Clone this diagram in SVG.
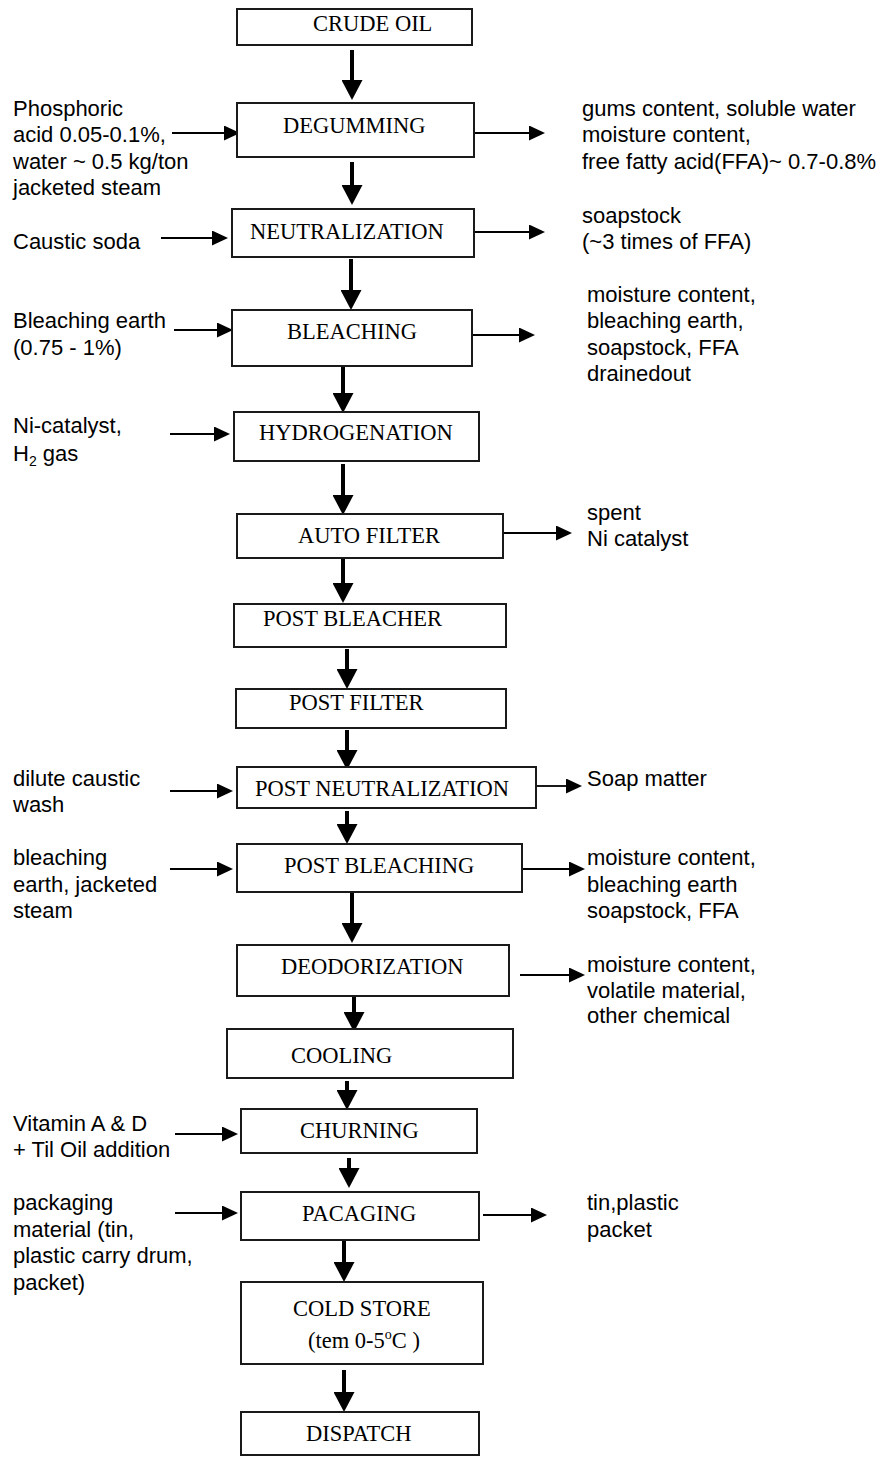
<svg xmlns="http://www.w3.org/2000/svg" width="888" height="1459" viewBox="0 0 888 1459">
<style>
.box{fill:#fff;stroke:#1a1a1a;stroke-width:2}
.lbl{font-family:"Liberation Serif","Times New Roman",serif;font-size:22.5px;fill:#000}
.side{font-family:"Liberation Sans",Arial,sans-serif;font-size:22px;fill:#000}
.main{stroke:#000;stroke-width:4;fill:none;marker-end:url(#bigHead)}
.thin{stroke:#000;stroke-width:1.8;fill:none;marker-end:url(#smallHead)}
</style>
<defs>
<marker id="bigHead" viewBox="0 0 20 21" markerWidth="20" markerHeight="21" refX="1" refY="10.5" orient="auto" markerUnits="userSpaceOnUse">
<path d="M0,0 L20,10.5 L0,21 Z" fill="#000"/>
</marker>
<marker id="smallHead" viewBox="0 0 16 15" markerWidth="16" markerHeight="15" refX="1" refY="7.5" orient="auto" markerUnits="userSpaceOnUse">
<path d="M0,0 L16,7.5 L0,15 Z" fill="#000"/>
</marker>
</defs>
<rect width="888" height="1459" fill="#fff"/>

<g id="connectors">
<line class="main" x1="352" y1="50" x2="352" y2="81"/>
<line class="main" x1="352" y1="162" x2="352" y2="186"/>
<line class="main" x1="351" y1="259" x2="351" y2="291"/>
<line class="main" x1="343" y1="367" x2="343" y2="394"/>
<line class="main" x1="343" y1="464" x2="343" y2="496"/>
<line class="main" x1="343" y1="559" x2="343" y2="584"/>
<line class="main" x1="347" y1="649" x2="347" y2="670"/>
<line class="main" x1="347" y1="730" x2="347" y2="751"/>
<line class="main" x1="347" y1="811" x2="347" y2="825"/>
<line class="main" x1="352" y1="893" x2="352" y2="924"/>
<line class="main" x1="354" y1="997" x2="354" y2="1013"/>
<line class="main" x1="347" y1="1081" x2="347" y2="1091"/>
<line class="main" x1="349" y1="1158" x2="349" y2="1169"/>
<line class="main" x1="344" y1="1241" x2="344" y2="1263"/>
<line class="main" x1="344" y1="1370" x2="344" y2="1393"/>

<line class="thin" x1="172" y1="133" x2="225" y2="133"/>
<line class="thin" x1="161" y1="238" x2="213" y2="238"/>
<line class="thin" x1="174" y1="330" x2="218" y2="330"/>
<line class="thin" x1="170" y1="434" x2="215" y2="434"/>
<line class="thin" x1="170" y1="791" x2="218" y2="791"/>
<line class="thin" x1="170" y1="869" x2="218" y2="869"/>
<line class="thin" x1="175" y1="1134" x2="223" y2="1134"/>
<line class="thin" x1="175" y1="1213" x2="223" y2="1213"/>

<line class="thin" x1="474" y1="133" x2="530" y2="133"/>
<line class="thin" x1="474" y1="232" x2="530" y2="232"/>
<line class="thin" x1="472" y1="335" x2="520" y2="335"/>
<line class="thin" x1="500" y1="533" x2="557" y2="533"/>
<line class="thin" x1="535" y1="786" x2="567" y2="786"/>
<line class="thin" x1="519" y1="869" x2="570" y2="869"/>
<line class="thin" x1="520" y1="975" x2="570" y2="975"/>
<line class="thin" x1="483" y1="1215" x2="532" y2="1215"/>
</g>

<g id="crude-oil"><rect class="box" x="237" y="9" width="235" height="36"/><text class="lbl" x="313" y="31">CRUDE OIL</text></g>
<g id="degumming"><rect class="box" x="237" y="103" width="237" height="54"/><text class="lbl" x="283" y="133">DEGUMMING</text></g>
<g id="neutralization"><rect class="box" x="232" y="209" width="242" height="48"/><text class="lbl" x="250" y="239">NEUTRALIZATION</text></g>
<g id="bleaching"><rect class="box" x="232" y="310" width="240" height="56"/><text class="lbl" x="287" y="339">BLEACHING</text></g>
<g id="hydrogenation"><rect class="box" x="234" y="412" width="245" height="49"/><text class="lbl" x="259" y="440">HYDROGENATION</text></g>
<g id="auto-filter"><rect class="box" x="237" y="514" width="266" height="44"/><text class="lbl" x="298" y="543">AUTO FILTER</text></g>
<g id="post-bleacher"><rect class="box" x="234" y="604" width="272" height="43"/><text class="lbl" x="263" y="626">POST BLEACHER</text></g>
<g id="post-filter"><rect class="box" x="236" y="689" width="270" height="39"/><text class="lbl" x="289" y="710">POST FILTER</text></g>
<g id="post-neutralization"><rect class="box" x="237" y="767" width="299" height="41"/><text class="lbl" x="255" y="796">POST NEUTRALIZATION</text></g>
<g id="post-bleaching"><rect class="box" x="237" y="844" width="285" height="48"/><text class="lbl" x="284" y="873">POST BLEACHING</text></g>
<g id="deodorization"><rect class="box" x="237" y="945" width="272" height="51"/><text class="lbl" x="281" y="974">DEODORIZATION</text></g>
<g id="cooling"><rect class="box" x="227" y="1029" width="286" height="49"/><text class="lbl" x="291" y="1063">COOLING</text></g>
<g id="churning"><rect class="box" x="241" y="1109" width="236" height="44"/><text class="lbl" x="300" y="1138">CHURNING</text></g>
<g id="pacaging"><rect class="box" x="241" y="1192" width="238" height="48"/><text class="lbl" x="302" y="1221">PACAGING</text></g>
<g id="cold-store"><rect class="box" x="241" y="1282" width="242" height="82"/><text class="lbl" x="293" y="1316">COLD STORE</text><text class="lbl" x="308" y="1348">(tem 0-5<tspan font-size="14" dy="-9">o</tspan><tspan dy="9">C )</tspan></text></g>
<g id="dispatch"><rect class="box" x="241" y="1412" width="238" height="43"/><text class="lbl" x="306" y="1441">DISPATCH</text></g>

<g id="inputs">
<text class="side" x="13" y="116">Phosphoric</text>
<text class="side" x="13" y="142">acid 0.05-0.1%,</text>
<text class="side" x="13" y="169">water ~ 0.5 kg/ton</text>
<text class="side" x="13" y="195">jacketed steam</text>
<text class="side" x="13" y="249">Caustic soda</text>
<text class="side" x="13" y="328">Bleaching earth</text>
<text class="side" x="13" y="355">(0.75 - 1%)</text>
<text class="side" x="13" y="433">Ni-catalyst,</text>
<text class="side" x="13" y="461">H<tspan font-size="14" dy="5">2</tspan><tspan dy="-5"> gas</tspan></text>
<text class="side" x="13" y="786">dilute caustic</text>
<text class="side" x="13" y="812">wash</text>
<text class="side" x="13" y="865">bleaching</text>
<text class="side" x="13" y="892">earth, jacketed</text>
<text class="side" x="13" y="918">steam</text>
<text class="side" x="13" y="1131">Vitamin A &amp; D</text>
<text class="side" x="13" y="1157">+ Til Oil addition</text>
<text class="side" x="13" y="1210">packaging</text>
<text class="side" x="13" y="1237">material (tin,</text>
<text class="side" x="13" y="1263">plastic carry drum,</text>
<text class="side" x="13" y="1290">packet)</text>
</g>

<g id="outputs">
<text class="side" x="582" y="116">gums content, soluble water</text>
<text class="side" x="582" y="142">moisture content,</text>
<text class="side" x="582" y="169">free fatty acid(FFA)~ 0.7-0.8%</text>
<text class="side" x="582" y="223">soapstock</text>
<text class="side" x="582" y="249">(~3 times of FFA)</text>
<text class="side" x="587" y="302">moisture content,</text>
<text class="side" x="587" y="328">bleaching earth,</text>
<text class="side" x="587" y="355">soapstock, FFA</text>
<text class="side" x="587" y="381">drainedout</text>
<text class="side" x="587" y="520">spent</text>
<text class="side" x="587" y="546">Ni catalyst</text>
<text class="side" x="587" y="786">Soap matter</text>
<text class="side" x="587" y="865">moisture content,</text>
<text class="side" x="587" y="892">bleaching earth</text>
<text class="side" x="587" y="918">soapstock, FFA</text>
<text class="side" x="587" y="972">moisture content,</text>
<text class="side" x="587" y="998">volatile material,</text>
<text class="side" x="587" y="1023">other chemical</text>
<text class="side" x="587" y="1210">tin,plastic</text>
<text class="side" x="587" y="1237">packet</text>
</g>
</svg>
